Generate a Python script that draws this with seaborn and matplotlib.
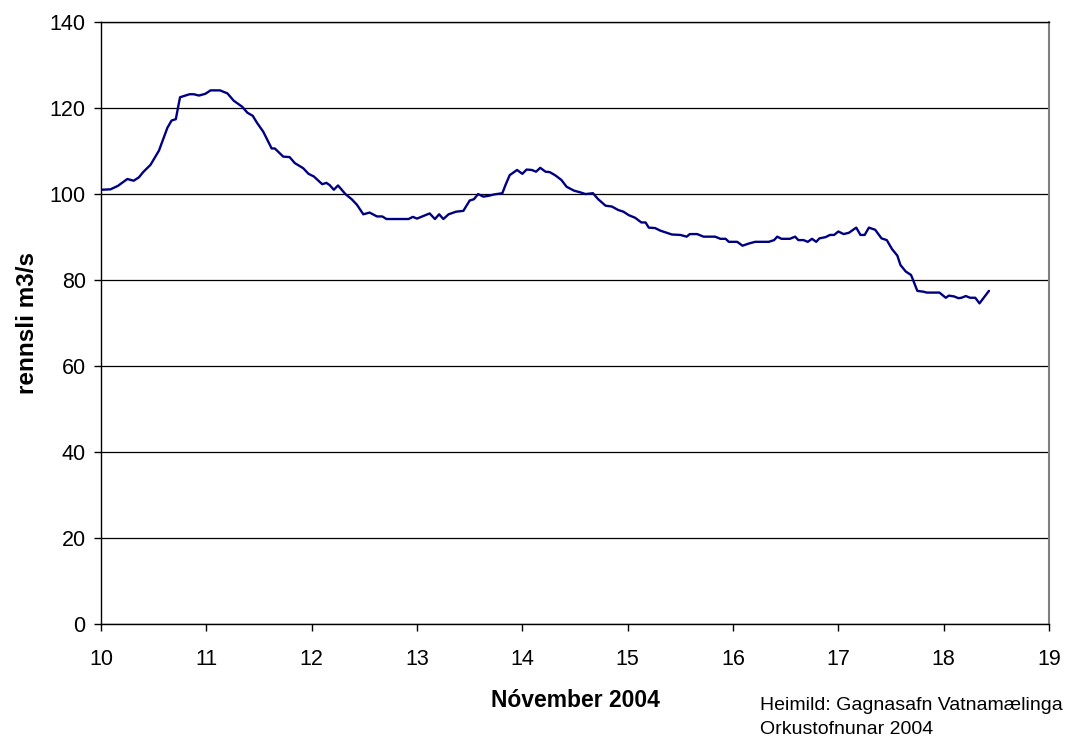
import matplotlib
matplotlib.use("Agg")
import matplotlib.pyplot as plt
import seaborn as sns

# rennsli (m3/s) lesið af myndinni, dagar í nóvember 2004
dagar = [10.00, 10.09, 10.16, 10.25, 10.31, 10.36, 10.40, 10.47, 10.55, 10.63,
         10.67, 10.71, 10.75, 10.84, 10.88, 10.93, 10.99, 11.04, 11.13, 11.20,
         11.26, 11.34, 11.39, 11.44, 11.48, 11.54, 11.62, 11.65, 11.73, 11.79,
         11.84, 11.92, 11.97, 12.02, 12.10, 12.14, 12.17, 12.21, 12.25, 12.32,
         12.38, 12.43, 12.49, 12.55, 12.62, 12.67, 12.71, 12.92, 12.96, 13.00,
         13.06, 13.12, 13.17, 13.21, 13.25, 13.30, 13.37, 13.44, 13.50, 13.54,
         13.58, 13.63, 13.68, 13.73, 13.81, 13.84, 13.88, 13.95, 14.00, 14.04,
         14.09, 14.13, 14.17, 14.22, 14.26, 14.31, 14.37, 14.42, 14.49, 14.55,
         14.60, 14.67, 14.72, 14.79, 14.85, 14.91, 14.96, 15.01, 15.07, 15.13,
         15.17, 15.20, 15.26, 15.31, 15.36, 15.42, 15.50, 15.56, 15.59, 15.66,
         15.72, 15.83, 15.88, 15.93, 15.96, 16.04, 16.09, 16.15, 16.21, 16.34,
         16.39, 16.42, 16.46, 16.54, 16.59, 16.62, 16.67, 16.71, 16.75, 16.79,
         16.82, 16.88, 16.92, 16.96, 17.00, 17.05, 17.10, 17.17, 17.21, 17.25,
         17.29, 17.35, 17.41, 17.46, 17.51, 17.56, 17.59, 17.64, 17.69, 17.71,
         17.75, 17.81, 17.84, 17.96, 18.02, 18.05, 18.10, 18.14, 18.17, 18.21,
         18.25, 18.30, 18.34, 18.38, 18.43]

rennsli = [101.0, 101.1, 101.9, 103.5, 103.1, 103.9, 105.1, 106.8, 110.1, 115.4,
           117.1, 117.4, 122.5, 123.2, 123.2, 122.9, 123.3, 124.1, 124.1, 123.4,
           121.7, 120.3, 118.9, 118.2, 116.6, 114.5, 110.6, 110.6, 108.7, 108.6,
           107.2, 106.0, 104.7, 104.1, 102.3, 102.6, 102.1, 101.0, 102.0, 100.0,
           98.8, 97.5, 95.3, 95.7, 94.8, 94.8, 94.2, 94.2, 94.7, 94.3,
           94.9, 95.5, 94.2, 95.3, 94.2, 95.3, 95.9, 96.1, 98.5, 98.8,
           100.0, 99.4, 99.6, 99.9, 100.2, 102.1, 104.4, 105.6, 104.7, 105.7,
           105.6, 105.2, 106.1, 105.2, 105.1, 104.4, 103.3, 101.7, 100.8, 100.4,
           100.0, 100.2, 98.8, 97.3, 97.1, 96.3, 95.9, 95.1, 94.5, 93.4,
           93.4, 92.2, 92.1, 91.5, 91.1, 90.6, 90.5, 90.1, 90.7, 90.7,
           90.1, 90.1, 89.6, 89.6, 88.9, 88.9, 88.0, 88.5, 88.9, 88.9,
           89.3, 90.1, 89.6, 89.6, 90.1, 89.3, 89.3, 88.9, 89.6, 88.9,
           89.7, 90.0, 90.5, 90.5, 91.3, 90.7, 91.0, 92.2, 90.5, 90.5,
           92.2, 91.7, 89.7, 89.3, 87.2, 85.7, 83.5, 82.0, 81.2, 80.0,
           77.5, 77.3, 77.1, 77.1, 75.9, 76.4, 76.2, 75.8, 75.9, 76.3,
           75.9, 75.9, 74.6, 75.9, 77.5]

x_ticks = list(range(10, 20))
y_ticks = list(range(0, 141, 20))

sns.set_style("white")
plt.rcParams['font.family'] = ['Liberation Sans', 'DejaVu Sans']
plt.rcParams['text.color'] = 'black'

fig = plt.figure(figsize=(10.77, 7.42), dpi=100)
ax = fig.add_axes([0.0938, 0.1586, 0.8802, 0.8118])

sns.lineplot(x=dagar, y=rennsli, color='#000080', linewidth=1.7, ax=ax, sort=False)

ax.set_xlim(10, 19)
ax.set_ylim(0, 140)
ax.set_xticks(x_ticks)
ax.set_yticks(y_ticks)
ax.tick_params(axis='both', direction='out', length=5, width=1, color='black',
               labelcolor='black', labelsize=15.5, bottom=True, left=True)
ax.tick_params(axis='x', pad=12.5)
ax.tick_params(axis='y', pad=6)
ax.yaxis.grid(True, color='black', linewidth=0.9)
ax.xaxis.grid(False)

for side in ['left', 'bottom', 'top']:
    ax.spines[side].set_color('black')
    ax.spines[side].set_linewidth(1)
ax.spines['right'].set_color('#808080')
ax.spines['right'].set_linewidth(1.5)

ax.set_xlabel('Nóvember 2004', fontsize=16.5, fontweight='bold', labelpad=14,
              color='black')
ax.set_ylabel('rennsli m3/s', fontsize=17.5, fontweight='bold', labelpad=8,
              color='black')

fig.text(0.7057, 1 - 706 / 742, 'Heimild: Gagnasafn Vatnamælinga',
         fontsize=14, ha='left', va='center', color='black')
fig.text(0.7057, 1 - 730 / 742, 'Orkustofnunar 2004',
         fontsize=14, ha='left', va='center', color='black')

fig.savefig('out.png', dpi=100)
